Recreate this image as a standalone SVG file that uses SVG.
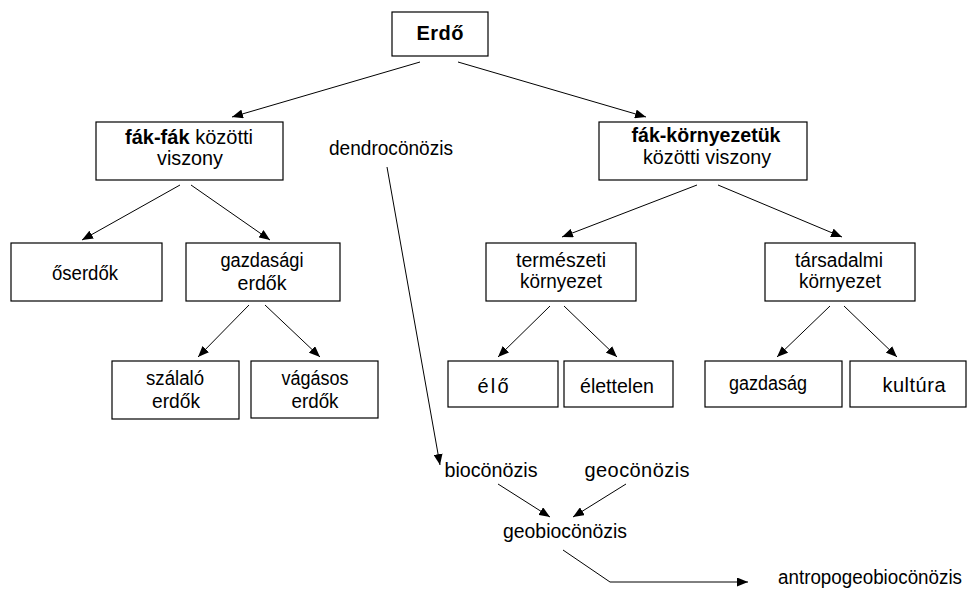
<svg xmlns="http://www.w3.org/2000/svg" width="968" height="591" viewBox="0 0 968 591">
<style>
  .box { fill: #ffffff; stroke: #000000; stroke-width: 1.2; }
  text { font-family: "Liberation Sans", Arial, sans-serif; font-size: 20px; fill: #000000; text-anchor: middle; }
  .b { font-weight: bold; }
  .conn { fill: none; stroke: #000000; stroke-width: 1; marker-end: url(#arrow); }
</style>
<defs>
  <marker id="arrow" markerUnits="userSpaceOnUse" markerWidth="12" markerHeight="9" refX="11" refY="4.5" orient="auto">
    <path d="M0,0 L11,4.5 L0,9 z" fill="#000000"/>
  </marker>
</defs>
<rect width="968" height="591" fill="#ffffff"/>

<g id="connectors">
  <path class="conn" d="M420,62 L232,117"/>
  <path class="conn" d="M458,62 L646,117"/>
  <path class="conn" d="M180,185 L82,240"/>
  <path class="conn" d="M191,185 L270,240"/>
  <path class="conn" d="M249,305 L198,357"/>
  <path class="conn" d="M265,305 L320,357"/>
  <path class="conn" d="M697,185 L562,237"/>
  <path class="conn" d="M718,185 L842,237"/>
  <path class="conn" d="M550,306 L498,357"/>
  <path class="conn" d="M564,306 L617,357"/>
  <path class="conn" d="M830,306 L777,357"/>
  <path class="conn" d="M844,306 L897,357"/>
  <path class="conn" d="M387,167 L440,465"/>
  <path class="conn" d="M498,484 L550,517"/>
  <path class="conn" d="M626,484 L573,517"/>
  <path class="conn" d="M563,550 L610,582 L748,582"/>
</g>

<g id="erdo">
  <rect class="box" x="392" y="12" width="96" height="44"/>
  <text class="b" x="440" y="40" textLength="47" lengthAdjust="spacing">Erdő</text>
</g>

<g id="fak-fak">
  <rect class="box" x="96" y="122" width="187" height="58"/>
  <text x="189" y="144" textLength="128" lengthAdjust="spacingAndGlyphs"><tspan class="b">fák-fák</tspan> közötti</text>
  <text x="190" y="165" textLength="66" lengthAdjust="spacingAndGlyphs">viszony</text>
</g>

<g id="dendrocenozis">
  <text x="391" y="155" textLength="124" lengthAdjust="spacingAndGlyphs">dendrocönözis</text>
</g>

<g id="fak-kornyezetuk">
  <rect class="box" x="599" y="122" width="208" height="58"/>
  <text class="b" x="706" y="142" textLength="149" lengthAdjust="spacingAndGlyphs">fák-környezetük</text>
  <text x="707" y="164" textLength="128" lengthAdjust="spacingAndGlyphs">közötti viszony</text>
</g>

<g id="oserdok">
  <rect class="box" x="11" y="243" width="151" height="58"/>
  <text x="85" y="280" textLength="66" lengthAdjust="spacingAndGlyphs">őserdők</text>
</g>

<g id="gazdasagi-erdok">
  <rect class="box" x="186" y="243" width="154" height="58"/>
  <text x="262" y="267" textLength="83" lengthAdjust="spacingAndGlyphs">gazdasági</text>
  <text x="262" y="290" textLength="49" lengthAdjust="spacingAndGlyphs">erdők</text>
</g>

<g id="szalalo-erdok">
  <rect class="box" x="112" y="361" width="127" height="58"/>
  <text x="175" y="385" textLength="58" lengthAdjust="spacingAndGlyphs">szálaló</text>
  <text x="176" y="408" textLength="48" lengthAdjust="spacingAndGlyphs">erdők</text>
</g>

<g id="vagasos-erdok">
  <rect class="box" x="251" y="361" width="127" height="57"/>
  <text x="315" y="385" textLength="67" lengthAdjust="spacingAndGlyphs">vágásos</text>
  <text x="315" y="408" textLength="47" lengthAdjust="spacingAndGlyphs">erdők</text>
</g>

<g id="termeszeti-kornyezet">
  <rect class="box" x="486" y="243" width="150" height="58"/>
  <text x="561" y="267" textLength="90" lengthAdjust="spacingAndGlyphs">természeti</text>
  <text x="561" y="288" textLength="82" lengthAdjust="spacingAndGlyphs">környezet</text>
</g>

<g id="tarsadalmi-kornyezet">
  <rect class="box" x="765" y="243" width="150" height="58"/>
  <text x="839" y="267" textLength="88" lengthAdjust="spacingAndGlyphs">társadalmi</text>
  <text x="840" y="288" textLength="82" lengthAdjust="spacingAndGlyphs">környezet</text>
</g>

<g id="elo">
  <rect class="box" x="448" y="361" width="110" height="46"/>
  <text x="493" y="393" textLength="31" lengthAdjust="spacing">élő</text>
</g>

<g id="elettelen">
  <rect class="box" x="564" y="361" width="109" height="46"/>
  <text x="617" y="393" textLength="74" lengthAdjust="spacingAndGlyphs">élettelen</text>
</g>

<g id="gazdasag">
  <rect class="box" x="705" y="361" width="137" height="46"/>
  <text x="768" y="390" textLength="78" lengthAdjust="spacingAndGlyphs">gazdaság</text>
</g>

<g id="kultura">
  <rect class="box" x="850" y="361" width="116" height="46"/>
  <text x="914" y="392" textLength="63" lengthAdjust="spacing">kultúra</text>
</g>

<g id="biocenozis">
  <text x="491" y="477" textLength="93" lengthAdjust="spacingAndGlyphs">biocönözis</text>
</g>

<g id="geocenozis">
  <text x="637" y="477" textLength="105" lengthAdjust="spacing">geocönözis</text>
</g>

<g id="geobiocenozis">
  <text x="565" y="538" textLength="124" lengthAdjust="spacingAndGlyphs">geobiocönözis</text>
</g>

<g id="antropogeobiocenozis">
  <text x="870" y="584" textLength="184" lengthAdjust="spacingAndGlyphs">antropogeobiocönözis</text>
</g>
</svg>
